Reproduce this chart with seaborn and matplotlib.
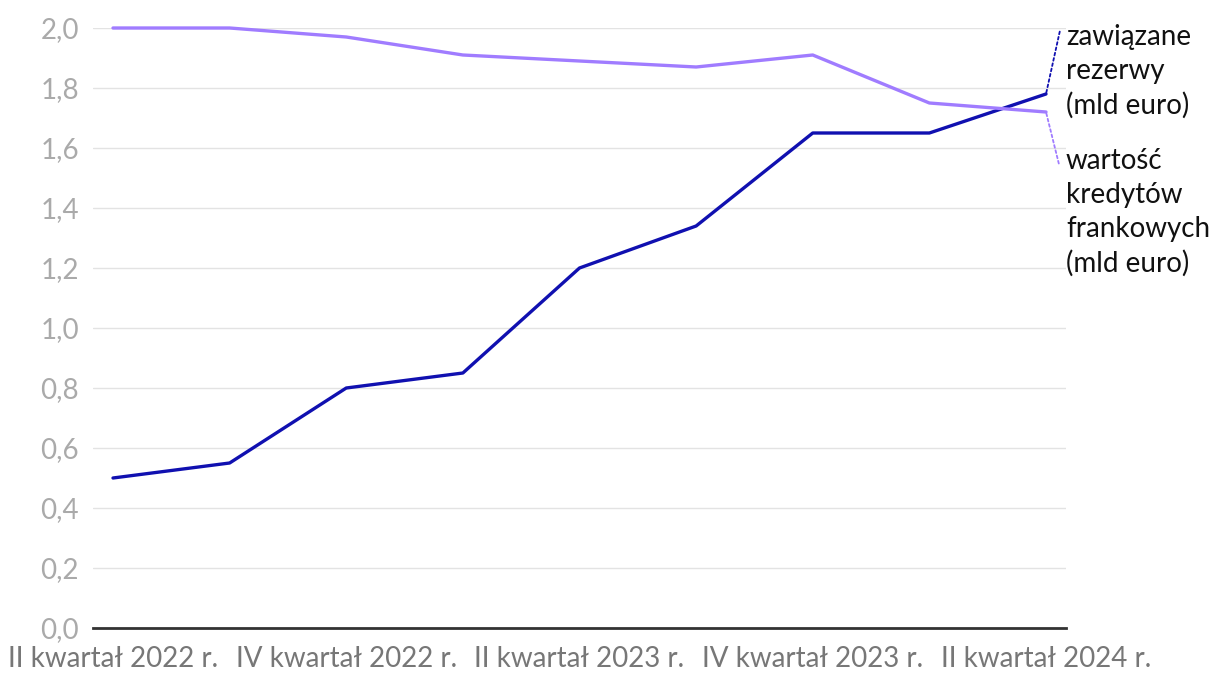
import numpy as np
import pandas as pd
import seaborn as sns
import matplotlib
matplotlib.use("Agg")
import matplotlib.pyplot as plt

quarters = ["II kwartał 2022 r.", "III kwartał 2022 r.", "IV kwartał 2022 r.", "I kwartał 2023 r.",
            "II kwartał 2023 r.", "III kwartał 2023 r.", "IV kwartał 2023 r.", "I kwartał 2024 r.",
            "II kwartał 2024 r."]
rezerwy = [0.50, 0.55, 0.80, 0.85, 1.20, 1.34, 1.65, 1.65, 1.78]
kredyty = [2.00, 2.00, 1.97, 1.91, 1.89, 1.87, 1.91, 1.75, 1.72]
series_names = ["zawiązane\nrezerwy\n(mld euro)", "wartość\nkredytów\nfrankowych\n(mld euro)"]
y_ticks = [0.0, 0.2, 0.4, 0.6, 0.8, 1.0, 1.2, 1.4, 1.6, 1.8, 2.0]

colors = ["#1010b0", "#a07cff"]

sns.set_theme(style="white")
plt.rcParams["font.family"] = ["Lato", "DejaVu Sans"]

df = pd.DataFrame({
    "x": list(range(len(quarters))) * 2,
    "value": rezerwy + kredyty,
    "series": [series_names[0]] * len(quarters) + [series_names[1]] * len(quarters),
})

fig = plt.figure(figsize=(12.2, 6.84), dpi=100)
ax = fig.add_axes([93 / 1220, 56 / 684, (1066 - 93) / 1220, (628 - 28) / 684])

sns.lineplot(data=df, x="x", y="value", hue="series", palette=colors, linewidth=2.4,
             legend=False, ax=ax, zorder=3)
for l in ax.lines:
    l.set_clip_on(False)

n = len(quarters)
pad = 20 / ((1046 - 113) / (n - 1))
ax.set_xlim(-pad, n - 1 + pad)
ax.set_ylim(0, 2.0)
ax.set_yticks(y_ticks)
ax.set_yticklabels([f"{v:.1f}".replace(".", ",") for v in y_ticks], color="#aaaaaa", fontsize=20)
ax.set_xticks(range(0, n, 2))
ax.set_xticklabels([quarters[i] for i in range(0, n, 2)], color="#777777", fontsize=20)
ax.tick_params(axis="x", length=0, pad=13)
ax.tick_params(axis="y", length=0, pad=10)
ax.set_xlabel("")
ax.set_ylabel("")
for s in ["top", "right", "left"]:
    ax.spines[s].set_visible(False)
ax.spines["bottom"].set_color("#333333")
ax.spines["bottom"].set_linewidth(2)
ax.spines["bottom"].set_zorder(4)
ax.yaxis.grid(True, color="#e3e3e3", linewidth=1)
ax.set_axisbelow(True)

# labels with dotted leaders
last = n - 1
ax.annotate(series_names[0], xy=(last, rezerwy[-1]), xytext=(1066, 684 - 24),
            textcoords="figure pixels", ha="left", va="top", fontsize=20, color="#111111",
            linespacing=1.38,
            arrowprops=dict(arrowstyle="-", linestyle=(0, (1.5, 1.5)), color=colors[0], lw=1.3,
                            shrinkA=0, shrinkB=0, relpos=(-0.05, 0.92)), annotation_clip=False)
ax.annotate(series_names[1], xy=(last, kredyty[-1]), xytext=(1066, 684 - 148),
            textcoords="figure pixels", ha="left", va="top", fontsize=20, color="#111111",
            linespacing=1.38,
            arrowprops=dict(arrowstyle="-", linestyle=(0, (1.5, 1.5)), color=colors[1], lw=1.3,
                            shrinkA=0, shrinkB=0, relpos=(-0.05, 0.88)), annotation_clip=False)

fig.savefig("out.png", dpi=100)
